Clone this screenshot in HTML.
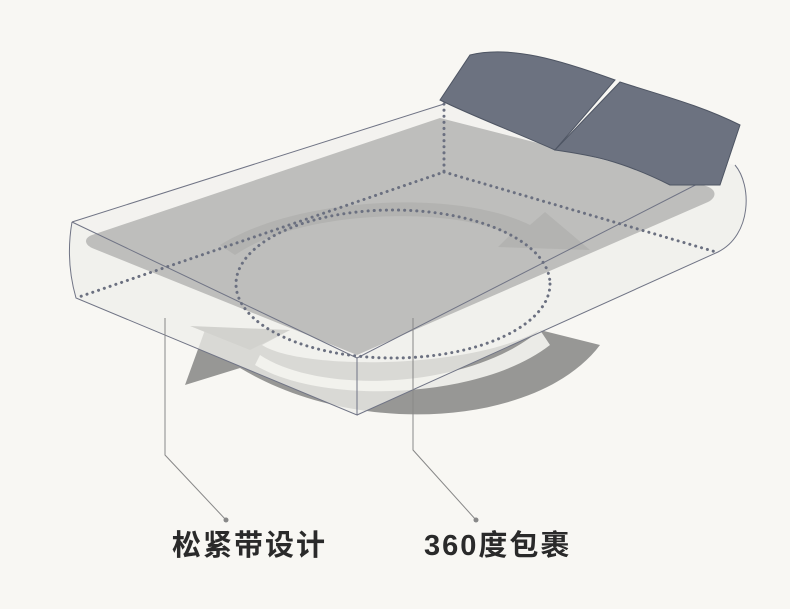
<!DOCTYPE html>
<html><head><meta charset="utf-8"><style>
html,body{margin:0;padding:0;background:#f8f7f3;}
body{width:790px;height:609px;overflow:hidden;position:relative;}
.t{position:absolute;top:529px;font-family:"Liberation Sans","Noto Sans CJK SC",sans-serif;font-weight:bold;font-size:29px;line-height:34px;color:#2a2a2a;letter-spacing:2px;}
</style></head><body>
<svg width="790" height="609" viewBox="0 0 790 609" style="position:absolute;left:0;top:0">
<path d="M185,385 L205,330 L290,330 L262,345 C300,370 470,370 540,330 L600,345 C540,425 360,440 240,368 Z" fill="#979795"/>
<path d="M72,222 L444,104 L735,165 L357,358 Z" fill="#efefeb" opacity="0.55"/>
<path d="M72,222 L357,358 L357,415 L76,298 C68,270 68,245 72,222 Z" fill="#efefeb" opacity="0.75"/>
<path d="M357,358 L735,165 C752,185 752,235 718,252 L357,415 Z" fill="#efefeb" opacity="0.75"/>
<path d="M92,235 L440,118 L706,186 C718,190 716,198 708,202 L357,355 L92,248 C84,244 84,238 92,235 Z" fill="#bebebc"/>
<path d="M220,245 C300,195 460,190 530,225 L545,212 L590,250 L498,247 L510,235 C450,205 300,210 235,255 Z" fill="#b0b0ae" opacity="0.8"/>
<path d="M260,355 C320,395 470,390 540,330 L550,345 C480,400 320,405 255,365 Z" fill="#f4f4f0" opacity="0.9"/>
<path d="M190,326 L290,330 L250,350 Z" fill="#d2d2ce"/>
<g fill="none" stroke="#707485" stroke-width="1">
<path d="M72,222 L444,104"/>
<path d="M72,222 L357,358 L357,415 L76,298 C68,270 68,245 72,222"/>
<path d="M357,358 L715,175"/>
<path d="M357,415 L718,252 C752,235 752,185 735,165"/>
</g>
<g fill="none" stroke="#6b7080" stroke-width="3" stroke-dasharray="0.1 6" stroke-linecap="round">
<path d="M444,104 L444,172 L76,298"/>
<path d="M444,172 L716,252"/>
<ellipse cx="393" cy="284" rx="157" ry="74"/>
</g>
<path d="M440,100 L470,55 C510,45 560,60 615,80 L555,150 C510,130 470,115 440,100 Z" fill="#6c7280" stroke="#4e5563" stroke-width="1"/>
<path d="M555,150 L620,82 C660,95 700,105 740,125 L720,185 L670,185 C620,160 590,155 555,150 Z" fill="#6c7280" stroke="#4e5563" stroke-width="1"/>
<g fill="none" stroke="#888" stroke-width="1">
<path d="M165,318 L165,455 L226,520"/>
<path d="M413,318 L413,450 L476,520"/>
</g>
<circle cx="226" cy="520" r="2.5" fill="#888"/>
<circle cx="476" cy="520" r="2.5" fill="#888"/>
</svg>
<div class="t" style="left:172px">松紧带设计</div>
<div class="t" style="left:424px">360度包裹</div>
</body></html>
